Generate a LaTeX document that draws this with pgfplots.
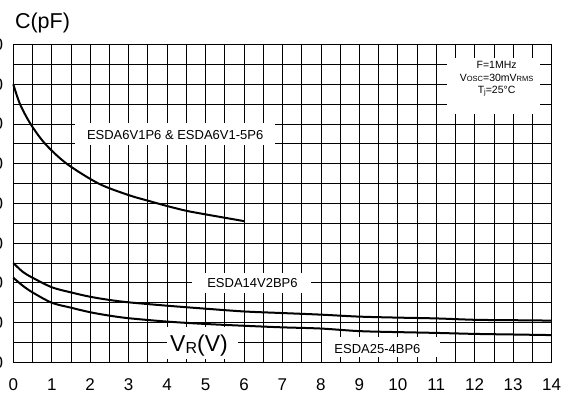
\documentclass[border=0pt]{standalone}
\usepackage{fontspec}
\setmainfont{Liberation Sans}
\usepackage{pgfplots}
\pgfplotsset{compat=1.18}
\begin{document}
\begin{tikzpicture}
\begin{axis}[
  scale only axis, width=538.3pt, height=317.7pt,
  xmin=0, xmax=14, ymin=0, ymax=16,
  xtick={0,...,14}, ytick={0,2,...,16},
  yticklabels={0,20,40,60,80,100,120,140,160},
  minor x tick num=1, minor y tick num=1,
  grid=both,
  major grid style={black, line width=0.8pt},
  minor grid style={black, line width=0.8pt},
  major tick length=0pt, minor tick length=0pt,
  axis line style={black, line width=1pt},
  tick label style={font=\fontsize{17}{17}\selectfont},
  /pgf/number format/assume math mode=true,
  xticklabel style={inner sep=0pt, anchor=north, yshift=-16.6pt},
  yticklabel style={inner sep=0pt, anchor=east, xshift=-10pt},
  clip=false,
]
% ESDA6V1P6 & ESDA6V1-5P6
\addplot[black, line width=2pt, smooth] coordinates {
  (0,14) (0.175,13) (0.45,12) (0.83,11) (1.39,10) (2.22,9) (3,8.42)
  (3.5,8.14) (4,7.87) (4.5,7.63) (5,7.45) (5.5,7.28) (6,7.11)
};
% ESDA14V2BP6
\addplot[black, line width=2pt, smooth] coordinates {
  (0,5.0) (0.25,4.55) (0.5,4.26) (1,3.78) (1.5,3.52) (2,3.3) (2.5,3.14)
  (3,3.02) (4,2.85) (5,2.7) (6,2.56) (7,2.48) (8,2.4) (9,2.3) (10,2.25)
  (11,2.21) (12,2.14) (13,2.12) (14,2.1)
};
% ESDA25-4BP6
\addplot[black, line width=2pt, smooth] coordinates {
  (0,4.26) (0.25,3.85) (0.5,3.52) (1,3.0) (1.5,2.75) (2,2.52) (2.5,2.35)
  (3,2.22) (4,2.05) (5,1.93) (6,1.84) (7,1.76) (8,1.7) (9,1.57) (10,1.52)
  (11,1.48) (12,1.43) (13,1.4) (14,1.37)
};

\fill[white] (axis cs:1.6,10.93) rectangle (axis cs:6.8,12.07);
\node[font=\fontsize{13}{13}\selectfont] at (axis cs:4.21,11.45) {ESDA6V1P6 \& ESDA6V1-5P6};
\fill[white] (axis cs:4.65,3.5) rectangle (axis cs:7.74,4.5);
\node[font=\fontsize{13}{13}\selectfont] at (axis cs:6.22,4.0) {ESDA14V2BP6};
\fill[white] (axis cs:8.03,0.26) rectangle (axis cs:11.1,1.25);
\node[font=\fontsize{13}{13}\selectfont] at (axis cs:9.47,0.67) {ESDA25-4BP6};
\fill[white] (axis cs:3.99,0.17) rectangle (axis cs:5.84,1.78);
\node[anchor=base, font=\fontsize{23}{23}\selectfont] at (axis cs:4.83,0.53)
  {V\raisebox{-1.6pt}{\fontsize{16}{16}\selectfont R}(V)};
\fill[white] (axis cs:11.27,12.5) rectangle (axis cs:13.7,15.3);
\node[align=center, font=\fontsize{10.5}{12.2}\selectfont] at (axis cs:12.57,14.27)
  {F=1MHz\\V{\fontsize{7.5}{7.5}\selectfont OSC}=30mV{\fontsize{7.5}{7.5}\selectfont RMS}\\T\raisebox{-1.5pt}{\fontsize{7.5}{7.5}\selectfont j}=25°C};
\node[font=\fontsize{21.5}{21.5}\selectfont] at (axis cs:0.76,17.11) {C(pF)};
\end{axis}
\pgfresetboundingbox
\useasboundingbox (-13.3pt,-38.7pt) rectangle (549.7pt,362.3pt);
\end{tikzpicture}
\end{document}
